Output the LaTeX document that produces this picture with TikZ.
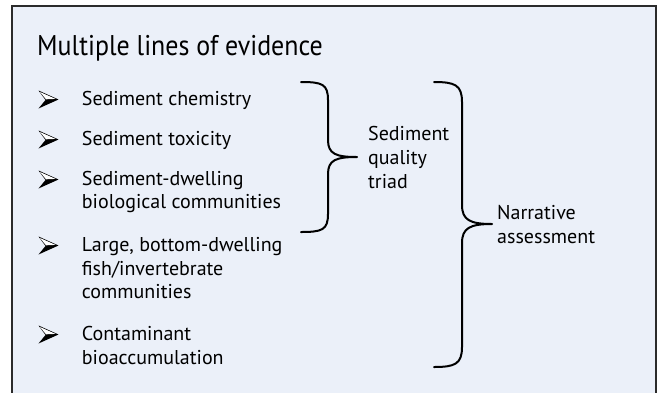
\documentclass[tikz,border=0pt]{standalone}
\usepackage{fontspec}
\setmainfont{PT Sans}
\newfontfamily\titlefont[FakeStretch=0.91]{PT Sans}
\definecolor{panelbg}{HTML}{EBF0F9}
\definecolor{panelline}{HTML}{2B2B2B}
\tikzset{
  body/.style={anchor=base west, inner sep=0pt, font=\fontsize{20}{24}\selectfont, text=black},
  bracepath/.style={line width=2pt, line cap=round, line join=round},
}
\newcommand{\bulletarrow}[2]{%
  \fill[black] (#1-20,#2-9) -- (#1,#2) -- (#1-20,#2+9) -- (#1-13,#2+0.5) -- cycle;
  \fill[white] (#1-18.5,#2-7.5) -- (#1-3,#2-0.6) -- (#1-12.5,#2-0.2) -- cycle;
}
\begin{document}
\begin{tikzpicture}[x=1pt,y=-1pt]
\useasboundingbox (0,0) rectangle (660,392);
\begin{scope}
\clip (0,0) rectangle (660,392);
\filldraw[fill=panelbg, draw=panelline, line width=1.5pt] (12,6) rectangle (656,400);
\end{scope}
\node[anchor=base west, inner sep=0pt, font=\titlefont\fontsize{28.5}{32}\selectfont] (title) at (37,55) {Multiple lines of evidence};
% bullets
\bulletarrow{58.5}{99.5}
\bulletarrow{58.5}{139.5}
\bulletarrow{58.5}{179.5}
\bulletarrow{58.5}{245.5}
\bulletarrow{58.5}{334.5}
% items
\node[body] (i1) at (81.7,105.5) {Sediment chemistry};
\node[body] (i2) at (81.7,145.5) {Sediment toxicity};
\node[body] (i3a) at (81.7,185.5) {Sediment-dwelling};
\node[body] (i3b) at (81.7,208.5) {biological communities};
\node[body] (i4a) at (81.7,251.7) {Large, bottom-dwelling};
\node[body] (i4b) at (81.7,275) {fish/invertebrate};
\node[body] (i4c) at (81.7,298.5) {communities};
\node[body] (i5a) at (81.7,340) {Contaminant};
\node[body] (i5b) at (81.7,364) {bioaccumulation};
% triad label
\node[body] (t1) at (368,140) {Sediment};
\node[body] (t2) at (368,164) {quality};
\node[body] (t3) at (368,188) {triad};
% narrative label
\node[body] (n1) at (497,219) {Narrative};
\node[body] (n2) at (497,243) {assessment};
% braces
\coordinate (b1top) at (301,82);
\coordinate (b1tip) at (357,157);
\coordinate (b1bot) at (301,232);
\draw[bracepath] (b1top) .. controls (322,82) and (328,84) .. (328,100)
  -- (328,140) .. controls (328,154) and (336,157) .. (b1tip)
  .. controls (336,157) and (328,160) .. (328,174)
  -- (328,214) .. controls (328,230) and (322,232) .. (b1bot);
\coordinate (b2top) at (434,82);
\coordinate (b2tip) at (492,224);
\coordinate (b2bot) at (434,367);
\draw[bracepath] (b2top) .. controls (455,82) and (462,85) .. (462,102)
  -- (462,205) .. controls (462,220) and (470,224) .. (b2tip)
  .. controls (470,224) and (462,228) .. (462,243)
  -- (462,347) .. controls (462,364) and (455,367) .. (b2bot);
\end{tikzpicture}
\end{document}
